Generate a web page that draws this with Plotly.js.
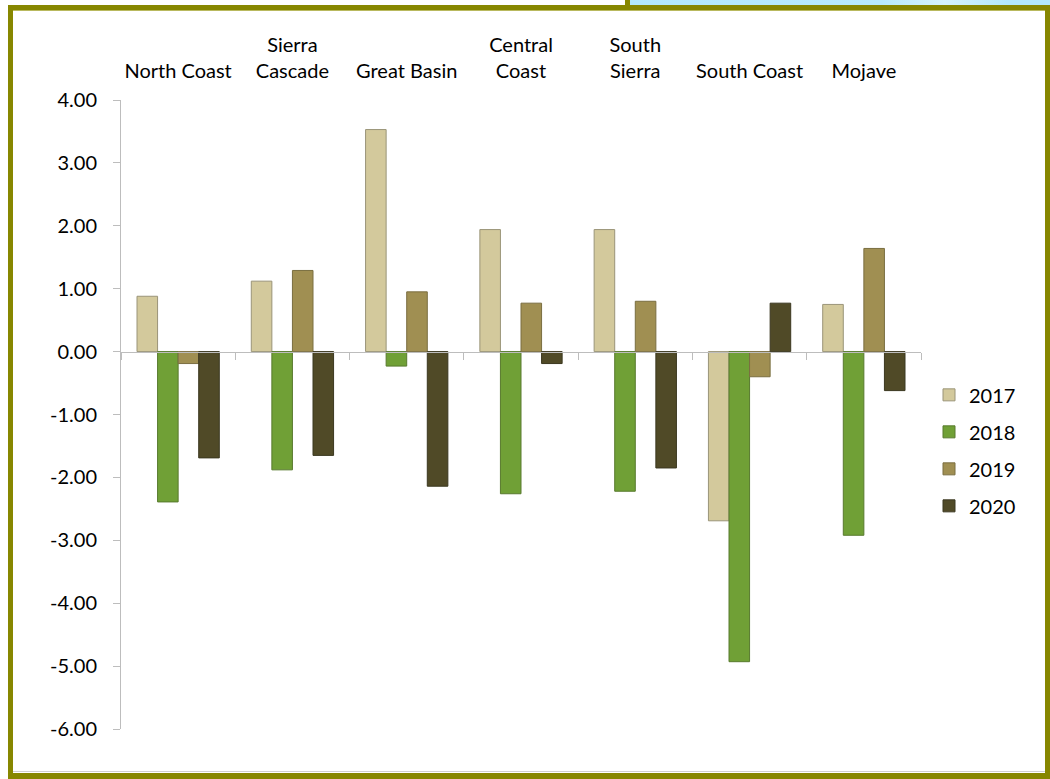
<!DOCTYPE html>
<html>
<head>
<meta charset="utf-8">
<script src="https://cdn.plot.ly/plotly-3.0.1.min.js"></script>
<style>
  html, body { margin: 0; padding: 0; background: #ffffff; width: 1050px; height: 779px; overflow: hidden; }
  #chart { position: absolute; left: 0; top: 0; width: 1050px; height: 779px; }
  .deco { position: absolute; pointer-events: none; }
</style>
</head>
<body>
<div id="chart"></div>
<!-- decorative frame -->
<div class="deco" style="left:630px; top:0; width:420px; height:5px; background:linear-gradient(90deg,#b3e8fb 0%,#b8eafb 60%,#d6f3fd 75%,#b3e8fb 90%);"></div>
<div class="deco" style="left:625px; top:0; width:5px; height:6px; background:#878700;"></div>
<div class="deco" style="left:8px; top:5px; width:1032px; height:763px; border-style:solid; border-color:#878700; border-width:5px 5px 6px 5px;"></div>
<div class="deco" style="left:13px; top:10px; width:1032px; height:1px; background:#b9b95e;"></div>
<div class="deco" style="left:13px; top:771px; width:1032px; height:1px; background:#d0d0d0;"></div>
<script>
// ---- data ----
const categories = ['North Coast', 'Sierra Cascade', 'Great Basin', 'Central Coast', 'South Sierra', 'South Coast', 'Mojave'];
const categoryLabels = ['North Coast', 'Sierra<br>Cascade', 'Great Basin', 'Central<br>Coast', 'South<br>Sierra', 'South Coast', 'Mojave'];
const seriesNames = ['2017', '2018', '2019', '2020'];
const v2017 = [0.88, 1.12, 3.53, 1.94, 1.94, -2.69, 0.75];
const v2018 = [-2.39, -1.88, -0.23, -2.26, -2.22, -4.93, -2.92];
const v2019 = [-0.19, 1.29, 0.95, 0.77, 0.80, -0.40, 1.64];
const v2020 = [-1.69, -1.65, -2.14, -0.19, -1.85, 0.77, -0.62];
const yTickVals = [4, 3, 2, 1, 0, -1, -2, -3, -4, -5, -6];
const yTickText = yTickVals.map(v => v.toFixed(2));

// ---- styles ----
const seriesValues = [v2017, v2018, v2019, v2020];
const seriesColors = ['#d3c99c', '#70a036', '#a08f52', '#504a27'];
const lineColors = ['#9a9478', '#587a2e', '#7a6e40', '#3b3820'];
const FONT = 'Lato, "Liberation Sans", sans-serif';
const FS = 20;

const traces = seriesNames.map((name, i) => ({
  type: 'bar',
  name: name,
  x: categories,
  y: seriesValues[i],
  xaxis: 'x',
  yaxis: 'y',
  legendgroup: 'g' + i,
  marker: { color: seriesColors[i], line: { color: lineColors[i], width: 1 } },
  hoverinfo: 'x+y+name'
}));

// helper trace to carry the zero-line axis
traces.push({
  type: 'scatter', mode: 'markers', x: categories, y: categories.map(() => null),
  xaxis: 'x2', yaxis: 'y', showlegend: false, hoverinfo: 'skip'
});

const layout = {
  width: 1050,
  height: 779,
  paper_bgcolor: '#ffffff',
  plot_bgcolor: 'rgba(0,0,0,0)',
  margin: { l: 121, r: 128.5, t: 100, b: 50.3, pad: 0 },
  font: { family: FONT, size: FS, color: '#000000' },
  barmode: 'group',
  bargap: 0.28,
  bargroupgap: 0,
  showlegend: true,
  legend: {
    x: 1.01, xanchor: 'left', y: 0.443, yanchor: 'middle',
    font: { family: FONT, size: FS, color: '#000000' },
    tracegroupgap: 8,
    bgcolor: 'rgba(0,0,0,0)'
  },
  xaxis: {
    type: 'category',
    side: 'top',
    tickmode: 'array',
    tickvals: categories,
    ticktext: categoryLabels,
    ticks: 'outside',
    ticklen: 13,
    tickcolor: 'rgba(0,0,0,0)',
    showline: false,
    showgrid: false,
    zeroline: false,
    tickfont: { family: FONT, size: FS, color: '#000000' },
    fixedrange: true
  },
  xaxis2: {
    type: 'category',
    overlaying: 'x',
    anchor: 'free',
    position: 0.6,
    range: [-0.5, categories.length - 0.5],
    showline: true,
    linecolor: '#bdbdbd',
    linewidth: 1,
    ticks: 'outside',
    tickson: 'boundaries',
    ticklen: 7,
    tickcolor: '#bdbdbd',
    showticklabels: false,
    showgrid: false,
    zeroline: false,
    fixedrange: true
  },
  yaxis: {
    range: [-6, 4],
    tickmode: 'array',
    tickvals: yTickVals,
    ticktext: yTickText,
    ticks: 'outside',
    ticklen: 7,
    tickcolor: '#bdbdbd',
    ticklabelstandoff: 12,
    showline: true,
    linecolor: '#bdbdbd',
    linewidth: 1,
    showgrid: false,
    zeroline: false,
    tickfont: { family: FONT, size: FS, color: '#000000' },
    fixedrange: true
  }
};

Plotly.newPlot('chart', traces, layout, { displayModeBar: false, staticPlot: true });
</script>
</body>
</html>
